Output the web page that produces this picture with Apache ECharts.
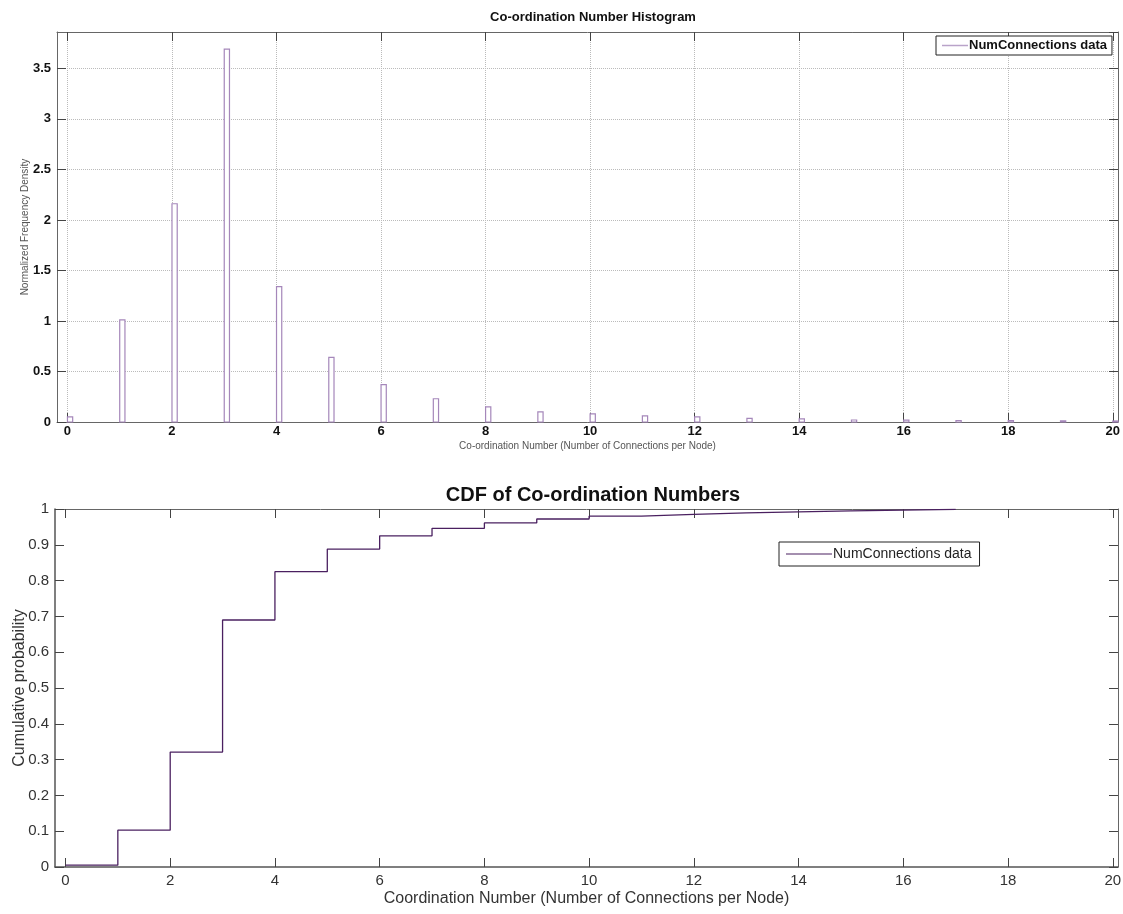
<!DOCTYPE html>
<html>
<head>
<meta charset="utf-8">
<script src="https://cdn.jsdelivr.net/npm/echarts@6/dist/echarts.min.js"></script>
<style>
  html, body { margin: 0; padding: 0; background: #fff; }
  #chart { width: 1123px; height: 914px; }
</style>
</head>
<body>
<div id="chart"></div>
<script>
// histogram bins (left edge) and normalized density
var binStarts = [0, 1, 2, 3, 4, 5, 6, 7, 8, 9, 10, 11, 12, 13, 14, 15, 16, 17, 18, 19, 20];
var density = [0.05, 1.01, 2.16, 3.69, 1.34, 0.64, 0.37, 0.23, 0.15, 0.10, 0.08, 0.06, 0.05, 0.035, 0.03, 0.02, 0.018, 0.015, 0.013, 0.012, 0.01];
var binWidth = 0.1;

// CDF steps
var cdfX = [0, 1, 2, 3, 4, 5, 6, 7, 8, 9, 10, 11, 12, 13, 14, 15, 16, 17];
var cdfY = [0.005, 0.103, 0.321, 0.69, 0.825, 0.888, 0.925, 0.946, 0.961, 0.972, 0.98, 0.985, 0.989, 0.992, 0.995, 0.997, 0.999, 0.999];

var xTicks = [0, 2, 4, 6, 8, 10, 12, 14, 16, 18, 20];
var seriesName = 'NumConnections data';

var chart = echarts.init(document.getElementById('chart'));

var narrow = "'Liberation Sans Narrow', 'Liberation Sans', Arial, sans-serif";
var plain = "'Liberation Sans', Arial, sans-serif";

var histData = binStarts.map(function (x, i) { return [x, density[i]]; });
var cdfData = cdfX.map(function (x, i) { return [x, cdfY[i]]; });

function boxAxis(gridIndex, pos, type, min, max, interval) {
    var ax = {
        gridIndex: gridIndex, position: pos, type: type, min: min, max: max,
        nameMoveOverlap: false,
        axisLine: { show: true, onZero: false, lineStyle: { color: '#666' } },
        axisTick: { show: true, inside: true, length: 9, lineStyle: { color: '#444' } },
        axisLabel: { show: false },
        splitLine: { show: false }
    };
    if (interval) ax.interval = interval;
    else {
        ax.axisTick.customValues = xTicks;
        ax.axisLabel.customValues = xTicks;
    }
    return ax;
}

var xTop0 = boxAxis(0, 'bottom', 'value', -0.2, 20.1);
xTop0.axisLabel = { show: true, customValues: xTicks, fontFamily: narrow, fontWeight: 'bold', fontSize: 13, color: '#111', margin: 3 };
xTop0.splitLine = { show: true, lineStyle: { type: 'dotted', color: '#bbb' } };
xTop0.name = 'Co-ordination Number (Number of Connections per Node)';
xTop0.nameLocation = 'middle';
xTop0.nameGap = 19;
xTop0.nameTextStyle = { fontFamily: narrow, fontSize: 10, color: '#555' };

var yTop0 = boxAxis(0, 'left', 'value', 0, 3.86, 0.5);
yTop0.axisLabel = { show: true, showMaxLabel: false, fontFamily: narrow, fontWeight: 'bold', fontSize: 13, color: '#111', margin: 6 };
yTop0.splitLine = { show: true, showMaxLine: false, lineStyle: { type: 'dotted', color: '#bbb' } };
yTop0.name = 'Normalized Frequency Density';
yTop0.nameLocation = 'middle';
yTop0.nameGap = 27;
yTop0.nameTextStyle = { fontFamily: narrow, fontSize: 10, color: '#555' };

var xBot0 = boxAxis(1, 'bottom', 'value', -0.2, 20.1);
xBot0.axisLine.lineStyle = { color: '#555', width: 1.5 };
xBot0.axisLabel = { show: true, customValues: xTicks, fontFamily: plain, fontSize: 15, color: '#333', margin: 6 };
xBot0.name = 'Coordination Number (Number of Connections per Node)';
xBot0.nameLocation = 'middle';
xBot0.nameGap = 24;
xBot0.nameTextStyle = { fontFamily: plain, fontSize: 16, color: '#333' };

var yBot0 = boxAxis(1, 'left', 'value', 0, 1, 0.1);
yBot0.axisLine.lineStyle = { color: '#555', width: 1.5 };
yBot0.axisLabel = { show: true, fontFamily: plain, fontSize: 15, color: '#333', margin: 6 };
yBot0.name = 'Cumulative probability';
yBot0.nameLocation = 'middle';
yBot0.nameGap = 27;
yBot0.nameTextStyle = { fontFamily: plain, fontSize: 16, color: '#333' };

var option = {
    animation: false,
    backgroundColor: '#fff',
    title: [
        { text: 'Co-ordination Number Histogram', left: 588, top: 6, textAlign: 'center',
          textStyle: { fontFamily: narrow, fontSize: 13, fontWeight: 'bold', color: '#111' } },
        { text: 'CDF of Co-ordination Numbers', left: 588, top: 480, textAlign: 'center',
          textStyle: { fontFamily: plain, fontSize: 20, fontWeight: 'bold', color: '#111' } }
    ],
    legend: [
        { data: [{ name: seriesName, itemStyle: { color: '#b9a3c9' } }], left: 936, top: 36,
          orient: 'vertical', icon: 'rect', itemWidth: 26, itemHeight: 1.5, itemGap: 4,
          padding: [3, 5, 3, 6], borderColor: '#222', borderWidth: 1, backgroundColor: '#fff',
          textStyle: { fontFamily: plain, fontWeight: 'bold', fontSize: 13, color: '#111', padding: [0, 0, 0, -4] } },
        { data: [{ name: seriesName, itemStyle: { color: '#4a2060' } }], left: 779, top: 542,
          orient: 'vertical', icon: 'rect', itemWidth: 46, itemHeight: 1, itemGap: 4,
          padding: [5, 8, 5, 7], borderColor: '#222', borderWidth: 1, backgroundColor: '#fff',
          textStyle: { fontFamily: plain, fontSize: 14, color: '#222', padding: [0, 0, 0, -4] } }
    ],
    grid: [
        { left: 57, top: 32, width: 1061, height: 390, outerBoundsMode: 'none' },
        { left: 55, top: 509, width: 1063, height: 358, outerBoundsMode: 'none' }
    ],
    xAxis: [
        xTop0,
        boxAxis(0, 'top', 'value', -0.2, 20.1),
        xBot0,
        boxAxis(1, 'top', 'value', -0.2, 20.1)
    ],
    yAxis: [
        yTop0,
        boxAxis(0, 'right', 'value', 0, 3.86, 0.5),
        yBot0,
        boxAxis(1, 'right', 'value', 0, 1, 0.1)
    ],
    series: [
        {
            name: seriesName,
            type: 'custom',
            xAxisIndex: 0,
            yAxisIndex: 0,
            data: histData,
            encode: { x: 0, y: 1 },
            itemStyle: { color: '#b9a3c9' },
            renderItem: function (params, api) {
                var x0 = api.value(0);
                var h = api.value(1);
                var p0 = api.coord([x0, 0]);
                var p1 = api.coord([x0 + binWidth, h]);
                return {
                    type: 'rect',
                    shape: { x: p0[0], y: p1[1], width: p1[0] - p0[0], height: p0[1] - p1[1] },
                    style: { fill: '#fff', stroke: '#a587ba', lineWidth: 1.2 }
                };
            }
        },
        {
            name: seriesName,
            type: 'line',
            xAxisIndex: 2,
            yAxisIndex: 2,
            data: cdfData,
            step: 'end',
            symbol: 'none',
            lineStyle: { color: '#4a2060', width: 1.3 },
            itemStyle: { color: '#4a2060' }
        }
    ]
};
chart.setOption(option);
</script>
</body>
</html>
